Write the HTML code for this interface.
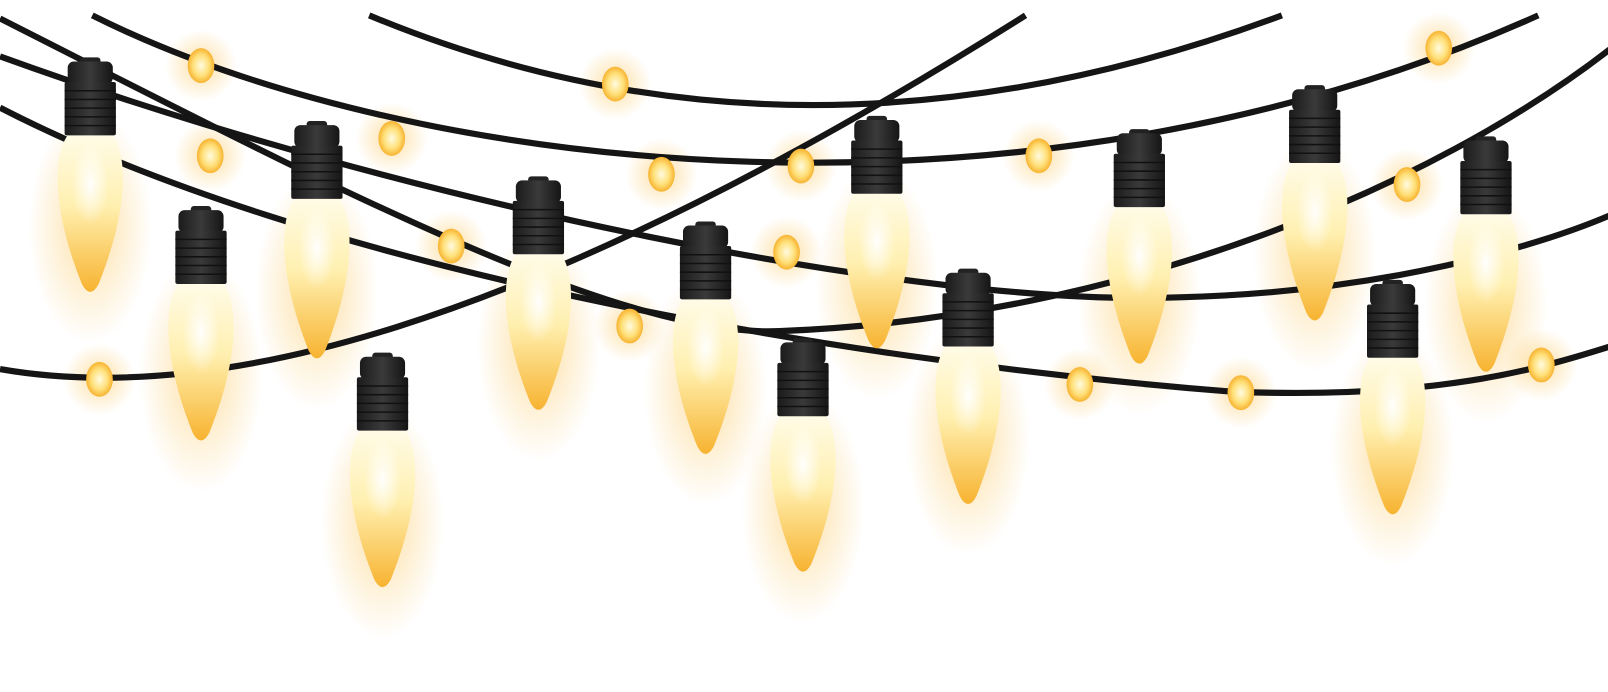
<!DOCTYPE html>
<html><head><meta charset="utf-8"><style>html,body{margin:0;padding:0;background:#fff;width:1608px;height:692px;overflow:hidden}</style></head>
<body>
<svg id="s" width="1608" height="692" viewBox="0 0 1568 675" preserveAspectRatio="none" xmlns="http://www.w3.org/2000/svg">
<defs>
<linearGradient id="bulb" x1="0" y1="0" x2="0" y2="1">
<stop offset="0" stop-color="#fffbe6"/><stop offset="0.45" stop-color="#fff0b0"/><stop offset="1" stop-color="#f7b330"/></linearGradient>
<radialGradient id="hl"><stop offset="0" stop-color="#fff" stop-opacity="0.95"/><stop offset="1" stop-color="#fff" stop-opacity="0"/></radialGradient>
<radialGradient id="glow"><stop offset="0" stop-color="#fbc04a" stop-opacity="0.5"/><stop offset="1" stop-color="#fbc04a" stop-opacity="0"/></radialGradient>
<radialGradient id="dot"><stop offset="0" stop-color="#fffbe0"/><stop offset="0.6" stop-color="#ffe07a"/><stop offset="1" stop-color="#f7b330"/></radialGradient>
<linearGradient id="sock" x1="0" y1="0" x2="1" y2="0"><stop offset="0" stop-color="#1b1b1b"/><stop offset="0.5" stop-color="#3a3a3a"/><stop offset="1" stop-color="#151515"/></linearGradient>
</defs>
<g id="glows"></g>
<g id="wires" fill="none" stroke="#151515" stroke-width="6" stroke-linecap="butt">
<path d="M360,15 Q780,190 1250,15"/>
<path d="M90,15 C400,170 1000,240 1500,15"/>
<path d="M0,18 C300,170 600,330 760,323 C1100,310 1400,180 1570,48"/>
<path d="M0,55 C400,200 900,300 1150,290 C1350,285 1500,240 1570,210"/>
<path d="M0,360 C200,395 500,330 1000,15"/>
<path d="M0,105 C300,260 800,350 1200,382 C1400,390 1500,360 1570,338"/>
</g>
<g id="lights"></g>
</svg>
<script>
const bulbX=[88,196,309,373,525,688,783,855,944,1111,1282,1358,1449];
const bulbTop=[60,205,122,348,176,220,334,117,266,130,87,277,137];
const bulbTip=[290,435,355,578,405,448,563,345,497,360,318,507,368];
const dotX=[196,205,382,600,645,781,440,614,767,97,1013,1403,1372,1053,1210,1503];
const dotY=[64,152,135,82,170,162,240,318,246,370,152,47,180,375,383,356];
const NS="http://www.w3.org/2000/svg";
const G=document.getElementById('glows'),L=document.getElementById('lights');
function mk(t,a,p){const e=document.createElementNS(NS,t);for(const k in a)e.setAttribute(k,a[k]);p.appendChild(e);return e;}
for(let i=0;i<bulbX.length;i++){
 const x=bulbX[i],t=bulbTop[i],b=t+72,tip=bulbTip[i];
 const gl=mk('ellipse',{cx:x,cy:(b+tip)/2+10,rx:60,ry:(tip-b)/2+35,fill:'url(#glow)'},G);
 
 
 const g=mk('g',{},L);
 
 
 const h=tip-b;
 mk('path',{d:`M${x-22},${b} C${x-36},${b+h*0.12} ${x-38},${b+h*0.45} ${x-8},${b+h*0.92} Q${x},${tip+2} ${x+8},${b+h*0.92} C${x+38},${b+h*0.45} ${x+36},${b+h*0.12} ${x+22},${b} Z`,fill:'url(#bulb)'},g);
 mk('ellipse',{cx:x,cy:b+h*0.3,rx:18,ry:h*0.25,fill:'url(#hl)'},g);
 mk('rect',{x:x-10,y:t-4,width:20,height:10,rx:3,fill:'#222'},g);
 mk('rect',{x:x-22,y:t,width:44,height:22,rx:6,fill:'url(#sock)'},g);
 mk('rect',{x:x-25,y:t+20,width:50,height:52,rx:2,fill:'url(#sock)'},g);
 for(let k=1;k<6;k++)mk('line',{x1:x-25,x2:x+25,y1:t+20+k*8.5,y2:t+20+k*8.5,stroke:'#111','stroke-width':1.5},g);
}
for(let i=0;i<dotX.length;i++){
 const gl=mk('circle',{cx:dotX[i],cy:dotY[i],r:35,fill:'url(#glow)'},G);
 
 
 const d=mk('ellipse',{cx:dotX[i],cy:dotY[i],rx:13,ry:17,fill:'url(#dot)'},L);
 
 
}
</script>
</body></html>
